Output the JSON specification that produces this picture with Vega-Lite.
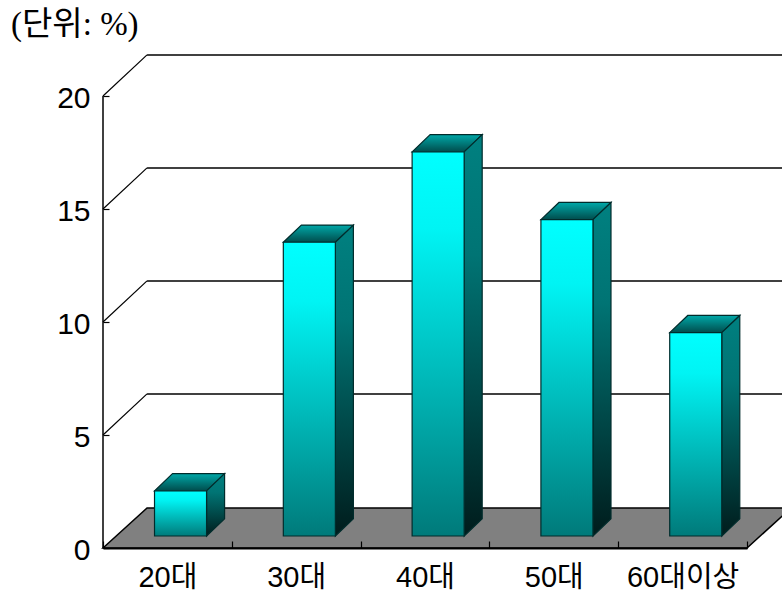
{
  "$schema": "https://vega.github.io/schema/vega-lite/v6.json",
  "width": 644,
  "height": 494,
  "autosize": "none",
  "padding": {"left": 103, "top": 54, "right": 35, "bottom": 44},
  "background": "white",
  "datasets": {
    "ages": [
      {"age": "20대", "slot": 0, "share": 2},
      {"age": "30대", "slot": 1, "share": 13},
      {"age": "40대", "slot": 2, "share": 17},
      {"age": "50대", "slot": 3, "share": 14},
      {"age": "60대이상", "slot": 4, "share": 9}
    ],
    "levels": [{"level": 0}, {"level": 5}, {"level": 10}, {"level": 15}, {"level": 20}]
  },
  "title": {
    "text": "(단위: %)",
    "frame": "group",
    "anchor": "start",
    "font": "Liberation Serif, Noto Sans CJK KR",
    "fontSize": 33,
    "fontWeight": "normal",
    "color": "black",
    "dx": -92,
    "dy": 0,
    "offset": 12
  },
  "config": {
    "view": {"stroke": null},
    "axis": {"grid": false}
  },
  "layer": [
    {
      "description": "Floor of the box, running back from the category axis",
      "data": {"name": "levels"},
      "transform": [
        {"filter": "datum.level === 0"},
        {"calculate": "[0,0.342,5,5.342]", "as": "px"},
        {"flatten": ["px"]},
        {"calculate": "datum.px === 0 ? 0 : 1.77", "as": "upper"},
        {"calculate": "datum.px === 5.342 ? 1.77 : 0", "as": "lower"}
      ],
      "mark": {"type": "area", "orient": "vertical", "fill": "#808080", "stroke": "black", "strokeWidth": 1.5, "clip": false},
      "encoding": {
        "x": {"field": "px", "type": "quantitative", "scale": {"domain": [0, 5]}, "axis": null},
        "y": {"field": "upper", "type": "quantitative", "scale": {"domain": [0, 21.86]}, "axis": null},
        "y2": {"field": "lower"}
      }
    },
    {
      "description": "Back wall lines",
      "data": {"name": "levels"},
      "transform": [
        {"filter": "datum.level > 0"},
        {"calculate": "datum.level + 1.82", "as": "wall"},
        {"calculate": "0.342", "as": "wallX"},
        {"calculate": "5.4", "as": "wallEnd"}
      ],
      "mark": {"type": "rule", "color": "black", "strokeWidth": 1.5, "clip": false},
      "encoding": {
        "x": {"field": "wallX", "type": "quantitative", "scale": {"domain": [0, 5]}, "axis": null},
        "x2": {"field": "wallEnd"},
        "y": {"field": "wall", "type": "quantitative", "scale": {"domain": [0, 21.86]}, "axis": null}
      }
    },
    {
      "description": "Slanted joins from the value axis to the back wall",
      "data": {"name": "levels"},
      "transform": [
        {"filter": "datum.level > 0"},
        {"calculate": "datum.level + 1.82", "as": "wall"},
        {"calculate": "0.342", "as": "wallX"},
        {"calculate": "0", "as": "front"}
      ],
      "mark": {"type": "rule", "color": "black", "strokeWidth": 1.2, "clip": false},
      "encoding": {
        "x": {"field": "front", "type": "quantitative", "scale": {"domain": [0, 5]}, "axis": null},
        "x2": {"field": "wallX"},
        "y": {"field": "level", "type": "quantitative", "scale": {"domain": [0, 21.86]}, "axis": null},
        "y2": {"field": "wall"}
      }
    },
    {
      "description": "Value axis line, stopping at the top level",
      "data": {"name": "levels"},
      "transform": [
        {"joinaggregate": [{"op": "max", "field": "level", "as": "topLevel"}]},
        {"filter": "datum.level === 0"},
        {"calculate": "0", "as": "front"}
      ],
      "mark": {"type": "rule", "color": "black", "strokeWidth": 1.5, "clip": false},
      "encoding": {
        "x": {"field": "front", "type": "quantitative", "scale": {"domain": [0, 5]}, "axis": null},
        "y": {"field": "level", "type": "quantitative", "scale": {"domain": [0, 21.86]}, "axis": null},
        "y2": {"field": "topLevel"}
      }
    },
    {
      "description": "Category axis with ticks at the band edges and the value axis",
      "data": {"name": "ages"},
      "mark": {"type": "point", "opacity": 0},
      "encoding": {
        "x": {
          "field": "age", "type": "nominal", "sort": null, "title": null,
          "scale": {"paddingInner": 0, "paddingOuter": 0},
          "axis": {
            "labelAngle": 0, "labelFont": "Liberation Sans, Noto Sans CJK KR", "labelFontSize": 29, "labelColor": "black",
            "tickBand": "extent", "tickSize": -7, "tickColor": "black", "tickWidth": 1.2, "zindex": 1,
            "domainColor": "black", "domainWidth": 2, "labelPadding": 22, "labelOverlap": false
          }
        },
        "y": {
          "field": "share", "type": "quantitative", "title": null,
          "scale": {"domain": [0, 21.86]},
          "axis": {
            "values": [0, 5, 10, 15, 20], "labelFont": "Liberation Sans, Noto Sans CJK KR", "labelFontSize": 30, "labelColor": "black",
            "tickSize": -6, "tickColor": "black", "tickWidth": 1.2, "labelPadding": 19, "labelOffset": 2,
            "domain": false, "labelOverlap": false, "labelFlush": false
          }
        }
      }
    },
    {
      "description": "Top faces of the columns",
      "data": {"name": "ages"},
      "transform": [
        {"calculate": "datum.slot + 0.4", "as": "left"},
        {"calculate": "[0,1,2,3]", "as": "corner"},
        {"flatten": ["corner"]},
        {"calculate": "datum.left + [0,0.14,0.404,0.544][datum.corner]", "as": "px"},
        {"calculate": "datum.share + 0.53 + [0,0.76,0.76,0.76][datum.corner]", "as": "upper"},
        {"calculate": "datum.share + 0.53 + [0,0,0,0.76][datum.corner]", "as": "lower"}
      ],
      "mark": {
        "type": "area", "orient": "vertical", "stroke": "#002c2c", "strokeWidth": 1.2, "clip": false,
        "fill": {"gradient": "linear", "x1": 0, "y1": 0, "x2": 0, "y2": 1, "stops": [{"offset": 0, "color": "#00a8a8"}, {"offset": 1, "color": "#004c4c"}]}
      },
      "encoding": {
        "x": {"field": "px", "type": "quantitative", "scale": {"domain": [0, 5]}, "axis": null},
        "y": {"field": "upper", "type": "quantitative", "scale": {"domain": [0, 21.86]}, "axis": null},
        "y2": {"field": "lower"},
        "detail": {"field": "age"}
      }
    },
    {
      "description": "Shaded right-hand faces of the columns",
      "data": {"name": "ages"},
      "transform": [
        {"calculate": "datum.slot + 0.804", "as": "right"},
        {"calculate": "[0,1]", "as": "corner"},
        {"flatten": ["corner"]},
        {"calculate": "datum.right + datum.corner * 0.14", "as": "px"},
        {"calculate": "datum.share + 0.53 + datum.corner * 0.76", "as": "upper"},
        {"calculate": "0.53 + datum.corner * 0.76", "as": "lower"}
      ],
      "mark": {
        "type": "area", "orient": "vertical", "stroke": "#002c2c", "strokeWidth": 1.2, "clip": false,
        "fill": {"gradient": "linear", "x1": 0, "y1": 0, "x2": 0, "y2": 1, "stops": [{"offset": 0, "color": "#008080"}, {"offset": 0.3, "color": "#007474"}, {"offset": 1, "color": "#001c1c"}]}
      },
      "encoding": {
        "x": {"field": "px", "type": "quantitative", "scale": {"domain": [0, 5]}, "axis": null},
        "y": {"field": "upper", "type": "quantitative", "scale": {"domain": [0, 21.86]}, "axis": null},
        "y2": {"field": "lower"},
        "detail": {"field": "age"}
      }
    },
    {
      "description": "Front faces of the columns, drawn from each share",
      "data": {"name": "ages"},
      "transform": [
        {"calculate": "datum.slot + 0.4", "as": "left"},
        {"calculate": "datum.slot + 0.804", "as": "right"},
        {"calculate": "datum.share + 0.53", "as": "top"},
        {"calculate": "0.53", "as": "base"}
      ],
      "mark": {
        "type": "rect", "stroke": "#002c2c", "strokeWidth": 1.2, "clip": false,
        "fill": {"gradient": "linear", "x1": 0, "y1": 0, "x2": 0, "y2": 1, "stops": [{"offset": 0, "color": "#00ffff"}, {"offset": 0.2, "color": "#00f4f4"}, {"offset": 1, "color": "#007a7a"}]}
      },
      "encoding": {
        "x": {"field": "left", "type": "quantitative", "scale": {"domain": [0, 5]}, "axis": null},
        "x2": {"field": "right"},
        "y": {"field": "top", "type": "quantitative", "scale": {"domain": [0, 21.86]}, "axis": null},
        "y2": {"field": "base"}
      }
    }
  ],
  "resolve": {"scale": {"x": "independent"}, "axis": {"x": "independent", "y": "independent"}}
}
